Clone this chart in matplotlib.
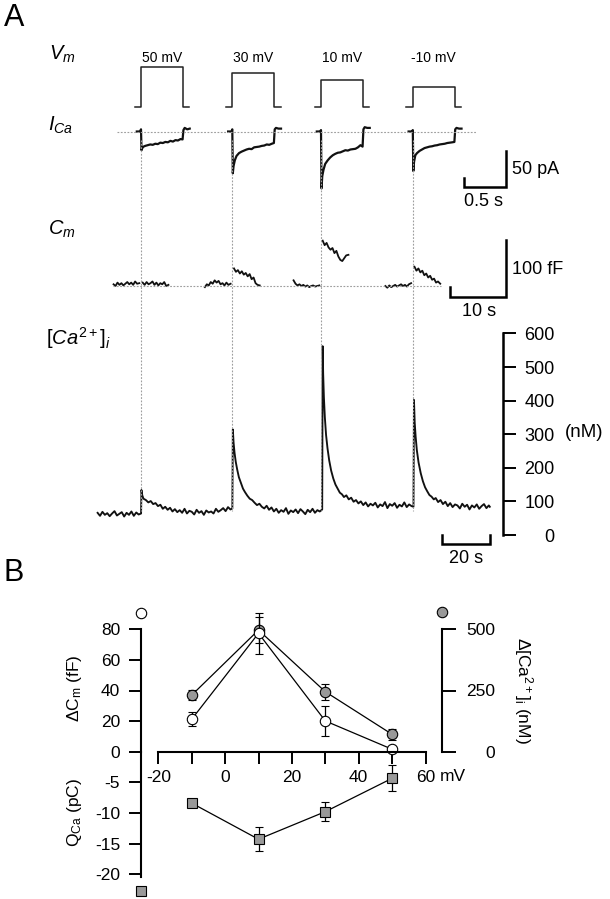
import matplotlib
matplotlib.use("Agg")
import matplotlib.pyplot as plt
from matplotlib.lines import Line2D

plt.rcParams.update({
    "font.family": ["Liberation Sans", "DejaVu Sans"],
    "mathtext.fontset": "custom",
    "mathtext.rm": "Liberation Sans",
    "mathtext.it": "Liberation Sans:italic",
    "mathtext.bf": "Liberation Sans:bold",
    "axes.unicode_minus": False,
})

# ---------------- data: panel A ----------------
step_labels = ["50 mV", "30 mV", "10 mV", "-10 mV"]
step_mV = [50, 30, 10, -10]
hold_mV = -70
step_dur = 0.5  # s

# I_Ca traces (s, pA)
ica_t = [-0.05, -0.01, 0.0, 0.006, 0.015, 0.03, 0.05, 0.08, 0.11, 0.14, 0.17, 0.2, 0.23,
         0.26, 0.29, 0.32, 0.35, 0.38, 0.41, 0.44, 0.47, 0.495, 0.505, 0.52, 0.55, 0.58]
ica_50 = [0, 0, 3, -26, -23, -21, -20, -19, -18, -18.5, -17, -17.5, -15.5, -16, -14.5, -15,
          -13, -14, -12, -12.5, -10.5, -11, 2, 5, 3, 4]
ica_30 = [0, 0, 3, -58, -48, -40, -34, -30, -28, -26.5, -25, -24, -24.5, -22, -21.5, -21,
          -20, -19.5, -18, -18.5, -17, -16, 3, 5, 4, 4]
ica_10 = [0, 0, 2, -79, -62, -53, -45, -40, -36, -33, -31, -29.5, -29, -27.5, -26, -26.5,
          -25, -24.5, -24, -22, -19, -21, 3, 6, 5, 5]
ica_m10 = [0, 0, 2, -55, -42, -33, -30, -27, -25, -23, -22, -21, -20.5, -19.5, -19, -18,
           -17.5, -17, -16, -15.5, -15, -14.5, 3, 5, 4, 4]
ica_traces = [ica_50, ica_30, ica_10, ica_m10]

# C_m segments (s relative to pulse, fF relative to baseline)
cm_pre_t = [-4.9, -4.55, -4.2, -3.85, -3.5, -3.15, -2.8, -2.45, -2.1, -1.75, -1.4, -1.05, -0.7, -0.3]
cm_post_t = [0.3, 0.65, 1.0, 1.35, 1.7, 2.05, 2.4, 2.75, 3.1, 3.45, 3.8, 4.15, 4.5, 4.9]
cm_pre_50 = [3, 0, 6, 2, 5, 1, 4, 7, 3, 6, 2, 8, 4, 5]
cm_post_50 = [6, 2, 7, 3, 5, 8, 2, 6, 1, 5, 3, 7, 0, 2]
cm_pre_30 = [-2, 3, 1, 7, 4, 10, 6, 9, 3, 5, 1, 6, 2, 4]
cm_post_30 = [31, 25, 28, 22, 26, 20, 23, 17, 21, 12, 15, 5, 2, 1]
cm_pre_10 = [10, 4, 1, 3, 0, 2, -1, 1, -2, 0, 1, -1, 0, 1]
cm_post_10 = [80, 72, 76, 68, 64, 67, 58, 62, 52, 46, 44, 49, 54, 55]
cm_pre_m10 = [0, -3, 1, -2, 0, 2, -1, 1, 3, 0, 2, -1, 3, 5]
cm_post_m10 = [34, 27, 31, 24, 27, 19, 22, 15, 18, 11, 13, 6, 8, 4]
cm_pre = [cm_pre_50, cm_pre_30, cm_pre_10, cm_pre_m10]
cm_post = [cm_post_50, cm_post_30, cm_post_10, cm_post_m10]

# [Ca2+]i trace (s, nM)
ca_base0 = [(0, 66), (1, 57), (2, 69), (3, 60), (4, 65), (5, 56), (6, 64), (7, 71), (8, 58),
            (9, 63), (10, 68), (11, 55), (12, 66), (13, 60), (14, 70), (15, 57), (16, 67),
            (17, 61), (18, 64)]
ca_p1 = [(18.15, 134), (18.5, 118), (19, 108), (20, 104), (21, 97), (22, 101), (23, 92),
         (24, 95), (25, 86), (26, 90), (27, 78), (28, 84), (29, 75), (30, 81), (31, 70),
         (32, 77), (33, 68), (34, 74), (35, 66), (36, 78), (37, 64), (38, 72), (39, 69),
         (40, 61), (41, 75), (42, 66), (43, 71), (44, 60), (45, 73), (46, 67), (47, 70),
         (48, 64), (49, 78), (50, 69), (51, 74), (52, 80), (53, 71), (54, 83), (55, 76),
         (55.8, 79)]
ca_p2 = [(56.0, 314), (56.3, 275), (56.7, 245), (57.2, 218), (57.8, 195), (58.5, 172),
         (59.3, 156), (60.2, 138), (61, 128), (62, 117), (63, 108), (64, 104), (65, 96),
         (66, 89), (67, 93), (68, 84), (69, 79), (70, 87), (71, 75), (72, 82), (73, 70),
         (74, 78), (75, 66), (76, 74), (77, 69), (78, 80), (79, 63), (80, 73), (81, 68),
         (82, 76), (83, 65), (84, 77), (85, 70), (86, 62), (87, 75), (88, 68), (89, 78),
         (90, 66), (91, 74), (92, 70), (93, 76)]
ca_p3 = [(93.2, 562), (93.4, 480), (93.7, 410), (94.1, 350), (94.6, 298), (95.2, 258),
         (95.9, 222), (96.7, 192), (97.6, 168), (98.5, 150), (99.4, 138), (100.3, 126),
         (101.2, 121), (102, 113), (103, 118), (104, 106), (105, 111), (106, 99), (107, 104),
         (108, 94), (109, 100), (110, 89), (111, 97), (112, 85), (113, 93), (114, 88),
         (115, 96), (116, 82), (117, 91), (118, 86), (119, 98), (120, 80), (121, 92),
         (122, 87), (123, 95), (124, 81), (125, 90), (126, 85), (127, 97), (128, 83),
         (129, 91), (130, 86), (130.8, 84)]
ca_p4 = [(131.0, 402), (131.3, 335), (131.7, 292), (132.2, 252), (132.9, 216), (133.8, 184),
         (134.7, 160), (135.6, 142), (136.5, 130), (137.4, 119), (138.3, 114), (139.2, 106),
         (140, 110), (141, 98), (142, 104), (143, 92), (144, 99), (145, 86), (146, 95),
         (147, 83), (148, 91), (149, 88), (150, 79), (151, 93), (152, 84), (153, 90),
         (154, 76), (155, 88), (156, 82), (157, 91), (158, 78), (159, 86), (160, 92),
         (161, 80), (162, 88), (162.4, 84)]
ca_ticks = [0, 100, 200, 300, 400, 500, 600]

# ---------------- data: panel B ----------------
vm_B = [-10, 10, 30, 50]
dcm = [21.2, 77.4, 20.1, 1.6]
dcm_err = [4.6, 13.5, 9.7, 0.8]
dca = [231, 497, 245, 71]
dca_err = [20, 53, 33, 22]
qca = [-8.4, -14.3, -9.8, -4.35]
qca_err = [0.5, 2.0, 1.55, 2.1]
xticks_B = [-20, -10, 0, 10, 20, 30, 40, 50, 60]
xticklabels_B = ["-20", "", "0", "", "20", "", "40", "", "60"]
cm_ticks = [0, 20, 40, 60, 80]
q_ticks = [-20, -15, -10, -5]
q_ticklabels = ["-20", "-15", "-10", "-5"]
ca_ticks_B = [0, 250, 500]

# ---------------- layout helpers ----------------
W, H = 610, 899
fig = plt.figure(figsize=(W / 100, H / 100), dpi=100)


def scaled_ax(ox, oy, xlim, ylim, sx, sy):
    left = ox + xlim[0] * sx
    right = ox + xlim[1] * sx
    top = oy - ylim[1] * sy
    bottom = oy - ylim[0] * sy
    ax = fig.add_axes([left / W, 1 - bottom / H, (right - left) / W, (bottom - top) / H])
    ax.set_xlim(xlim)
    ax.set_ylim(ylim)
    ax.patch.set_alpha(0)
    return ax


def ftext(x, y, s, **kw):
    fig.text(x / W, 1 - y / H, s, **kw)


def fline(xs, ys, **kw):
    fig.add_artist(Line2D([x / W for x in xs], [1 - y / H for y in ys],
                          transform=fig.transFigure, **kw))


dotted = dict(color="0.62", lw=0.8, ls=(0, (1.6, 1.4)))
trace_c = "#111111"

pulse_x = [141.0, 232.3, 321.0, 412.8]

# panel letters and row labels
ftext(4, 18, "A", fontsize=22, ha="left", va="center")
ftext(4, 573, "B", fontsize=22, ha="left", va="center")
ftext(49, 54, r"$V_m$", fontsize=14.5, ha="left", va="center")
ftext(48, 125, r"$I_{Ca}$", fontsize=14.5, ha="left", va="center")
ftext(48, 229, r"$C_m$", fontsize=14.5, ha="left", va="center")
ftext(46, 338, r"$[Ca^{2+}]_i$", fontsize=14.5, ha="left", va="center")

# dotted reference lines
fline([117, 476], [131.5, 131.5], **dotted)
fline([113, 441], [286, 286], **dotted)
for px in pulse_x:
    fline([px, px], [140, 511], **dotted)

# Vm and I_Ca rows
sx_fast = 84.0
for i, px in enumerate(pulse_x):
    axv = scaled_ax(px, 106.7 + hold_mV * 0.333, (-0.1, 0.62), (-80, 60), sx_fast, 0.333)
    axv.axis("off")
    vt = [-0.076, 0, 0, step_dur, step_dur, step_dur + 0.076]
    vv = [hold_mV, hold_mV, step_mV[i], step_mV[i], hold_mV, hold_mV]
    axv.plot(vt, vv, color="#222222", lw=1.1, clip_on=False)
    ftext(px + step_dur / 2 * sx_fast, 57.5, step_labels[i], fontsize=10, ha="center", va="center")

    axi = scaled_ax(px, 131.5, (-0.1, 0.62), (-100, 15), sx_fast, 0.72)
    axi.axis("off")
    axi.plot(ica_t, ica_traces[i], color=trace_c, lw=1.6, clip_on=False)

    axc = scaled_ax(px, 286, (-5.2, 5.2), (-20, 100), 5.6, 0.567)
    axc.axis("off")
    axc.plot(cm_pre_t, cm_pre[i], color=trace_c, lw=1.3, clip_on=False)
    axc.plot(cm_post_t, cm_post[i], color=trace_c, lw=1.3, clip_on=False)

# scale bars
bar_lw = 1.8
axb = scaled_ax(506, 186.7, (-0.6, 0.05), (-5, 55), sx_fast, 0.72)
axb.axis("off")
axb.plot([-0.5, -0.5, 0, 0], [12.5, 0, 0, 50], color="k", lw=bar_lw, clip_on=False,
         solid_joinstyle="miter")
ftext(512, 169, "50 pA", fontsize=13, ha="left", va="center")
ftext(484, 202, "0.5 s", fontsize=13, ha="center", va="center")

axb2 = scaled_ax(506, 296.7, (-11, 1), (-5, 105), 5.6, 0.567)
axb2.axis("off")
axb2.plot([-10, -10, 0, 0], [16.6, 0, 0, 100], color="k", lw=bar_lw, clip_on=False,
          solid_joinstyle="miter")
ftext(512, 269, "100 fF", fontsize=13, ha="left", va="center")
ftext(479, 312, "10 s", fontsize=13, ha="center", va="center")

# Ca trace
sx_ca, sy_ca = 2.415, 0.336
axca = scaled_ax(97.6, 535, (0, (503.3 - 97.6) / sx_ca), (0, 600), sx_ca, sy_ca)
ca_all = ca_base0 + ca_p1 + ca_p2 + ca_p3 + ca_p4
axca.plot([p[0] for p in ca_all], [p[1] for p in ca_all], color=trace_c, lw=1.35, clip_on=False)
for s in ["left", "top", "bottom"]:
    axca.spines[s].set_visible(False)
axca.spines["right"].set_bounds(0, 600)
axca.spines["right"].set_linewidth(1.8)
axca.set_xticks([])
axca.yaxis.tick_right()
axca.set_yticks(ca_ticks)
axca.set_yticklabels([str(v) for v in ca_ticks])
axca.tick_params(axis="y", direction="out", length=9.5, width=1.4, pad=27.5, labelsize=13)
for lab in axca.get_yticklabels():
    lab.set_horizontalalignment("right")
axca.plot([142.5, 142.5, 162.5, 162.5], [0, -27, -27, 0], color="k", lw=bar_lw, clip_on=False,
          solid_joinstyle="miter")
ftext(466, 558.5, "20 s", fontsize=13, ha="center", va="center")
ftext(565, 432.5, "(nM)", fontsize=13.5, ha="left", va="center")

# ---------------- panel B ----------------
ox, oy, sxB = 225.1, 751.7, 3.34
xlimB = (-25.2, 65.0)
sy_cm = 1.53
sy_q = 6.12
sy_caB = sy_cm * 80 / 500
gray = "0.6"
spine_lw = 1.5

ax_q = scaled_ax(ox, oy, xlimB, (-21.5, 0), sxB, sy_q)
ax_ca = scaled_ax(ox, oy, xlimB, (0, 575), sxB, sy_caB)
ax_cm = scaled_ax(ox, oy, xlimB, (0, 92), sxB, sy_cm)

eb = dict(capsize=3.2, elinewidth=0.9, capthick=0.9, lw=0.9, color="k",
          markeredgecolor="k", markeredgewidth=0.8, clip_on=False)
ax_q.errorbar(vm_B, qca, yerr=qca_err, marker="s", ms=7, markerfacecolor=gray, **eb)
ax_ca.errorbar(vm_B, dca, yerr=dca_err, marker="o", ms=7.5, markerfacecolor=gray, **eb)
ax_cm.errorbar(vm_B, dcm, yerr=dcm_err, marker="o", ms=7.5, markerfacecolor="white", **eb)

# key markers at axis ends
ax_cm.plot([xlimB[0]], [(oy - 612.7) / sy_cm], "o", ms=7.5, mfc="white", mec="k", mew=0.8, clip_on=False)
ax_ca.plot([xlimB[1]], [(oy - 611.7) / sy_caB], "o", ms=7.5, mfc=gray, mec="k", mew=0.8, clip_on=False)
ax_q.plot([xlimB[0]], [(oy - 891) / sy_q], "s", ms=6.5, mfc=gray, mec="k", mew=0.8, clip_on=False)

# spines / ticks
for s in ["top", "right"]:
    ax_cm.spines[s].set_visible(False)
ax_cm.spines["left"].set_bounds(0, 80)
ax_cm.spines["left"].set_linewidth(spine_lw)
ax_cm.spines["bottom"].set_bounds(-20, 60)
ax_cm.spines["bottom"].set_linewidth(spine_lw)
ax_cm.set_yticks(cm_ticks)
ax_cm.set_yticklabels([str(v) for v in cm_ticks])
ax_cm.set_xticks(xticks_B)
ax_cm.set_xticklabels(xticklabels_B)
ax_cm.tick_params(axis="y", direction="out", length=9, width=1.4, pad=6, labelsize=12.5)
ax_cm.tick_params(axis="x", direction="out", length=8.4, width=1.4, pad=5, labelsize=12.5)

for s in ["top", "right", "bottom"]:
    ax_q.spines[s].set_visible(False)
ax_q.spines["left"].set_bounds(-20.5, 0)
ax_q.spines["left"].set_linewidth(spine_lw)
ax_q.set_xticks([])
ax_q.set_yticks(q_ticks)
ax_q.set_yticklabels(q_ticklabels)
ax_q.tick_params(axis="y", direction="out", length=9, width=1.4, pad=6, labelsize=12.5)

for s in ["top", "left", "bottom"]:
    ax_ca.spines[s].set_visible(False)
ax_ca.spines["right"].set_bounds(0, 500)
ax_ca.spines["right"].set_linewidth(spine_lw)
ax_ca.set_xticks([])
ax_ca.yaxis.tick_right()
ax_ca.set_yticks(ca_ticks_B)
ax_ca.set_yticklabels([str(v) for v in ca_ticks_B])
ax_ca.tick_params(axis="y", direction="out", length=10, width=1.4, pad=28, labelsize=12.5)
for lab in ax_ca.get_yticklabels():
    lab.set_horizontalalignment("right")

ftext(440, 776.5, "mV", fontsize=12.5, ha="left", va="center")
ftext(75, 688, "ΔC$_\\mathrm{m}$ (fF)", fontsize=12.5, rotation=90, ha="center", va="center")
ftext(75, 812, "Q$_\\mathrm{Ca}$ (pC)", fontsize=12.5, rotation=90, ha="center", va="center")
ftext(523, 690, "Δ[Ca$^{2+}$]$_\\mathrm{i}$ (nM)", fontsize=12.5, rotation=-90, ha="center", va="center")

fig.savefig("out.png", dpi=100)
